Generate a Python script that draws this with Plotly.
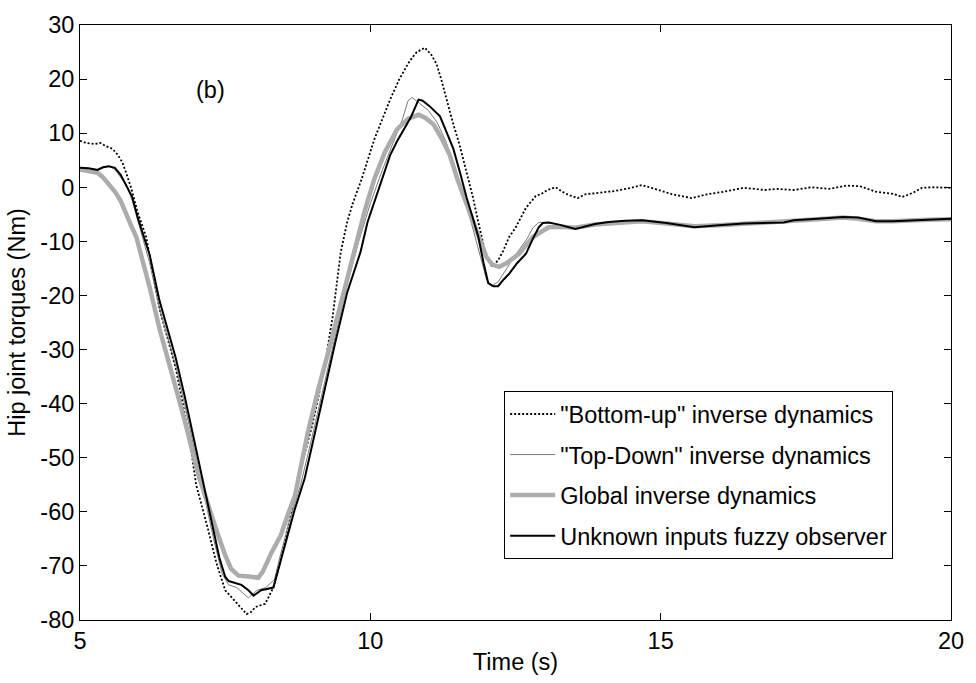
import plotly.graph_objects as go

# Bottom-up inverse dynamics (dotted)
t_bu = [5.0, 5.1, 5.26, 5.35, 5.45, 5.56, 5.65, 5.73, 5.8, 5.88, 5.99, 6.14, 6.37, 6.65, 6.88, 7.0,
        7.2, 7.35, 7.5, 7.68, 7.87, 7.95, 8.02, 8.19, 8.33, 8.45, 8.6, 8.8, 9.0, 9.2, 9.35, 9.49,
        9.6, 9.69, 9.85, 10.07, 10.2, 10.34, 10.5, 10.68, 10.8, 10.94, 11.05, 11.14, 11.22, 11.31,
        11.42, 11.54, 11.65, 11.77, 11.85, 11.94, 12.0, 12.1, 12.2, 12.29, 12.39, 12.5, 12.68,
        12.85, 12.95, 13.05, 13.19, 13.3, 13.41, 13.57, 13.7, 13.87, 14.2, 14.5, 14.68, 14.9,
        15.2, 15.53, 15.8, 16.1, 16.43, 16.8, 17.0, 17.29, 17.6, 17.9, 18.2, 18.43, 18.7, 19.0,
        19.16, 19.35, 19.5, 19.7, 20.0]
v_bu = [8.6, 8.2, 8.0, 8.2, 7.6, 7.1, 6.0, 4.6, 2.5, -0.1, -4.5, -9.2, -22.5, -33.5, -46.0, -55.0,
        -63.0, -69.5, -74.5, -76.7, -78.9, -78.5, -77.6, -77.0, -74.0, -69.0, -62.0, -52.0, -44.0,
        -34.0, -24.0, -12.0, -6.5, -3.2, 1.5, 8.9, 12.5, 16.2, 20.0, 23.4, 25.0, 25.8, 24.5, 22.8,
        20.0, 16.2, 12.0, 7.7, 3.0, -2.0, -6.0, -10.5, -13.0, -14.7, -13.5, -11.7, -9.2, -7.5, -3.8,
        -1.6, -1.2, -0.5, 0.0, -0.8, -1.4, -2.0, -1.3, -1.1, -0.7, -0.1, 0.4, -0.3,
        -1.3, -2.0, -1.3, -0.8, -0.1, -0.5, -0.3, -0.5, 0.0, -0.3, 0.3, 0.2, -0.8, -1.2,
        -1.8, -1.0, -0.1, 0.0, -0.1]

# "Top-Down" inverse dynamics (thin gray)
t_td = [5.0, 5.15, 5.3, 5.4, 5.5, 5.6, 5.7, 5.8, 5.9, 6.0, 6.1, 6.2, 6.37, 6.5, 6.65, 6.8, 7.0,
        7.17, 7.3, 7.45, 7.56, 7.7, 7.9, 8.05, 8.2, 8.35, 8.45, 8.6, 8.8, 9.0, 9.2, 9.4, 9.6, 9.8,
        10.0, 10.2, 10.4, 10.55, 10.65, 10.72, 10.85, 11.0, 11.15, 11.3, 11.45, 11.6, 11.75, 11.9,
        12.0, 12.08, 12.2, 12.35, 12.5, 12.7, 12.8, 12.9, 13.07, 13.25, 13.53, 13.87, 14.39,
        14.68, 15.1, 15.58, 16.0, 16.43, 17.12, 17.29, 17.7, 18.14, 18.4, 18.71, 19.0, 19.3,
        19.6, 20.0]
v_td = [3.6, 3.5, 3.3, 3.8, 3.9, 3.3, 1.8, 0.4, -2.5, -6.5, -10.5, -14.0, -22.5, -27.5, -33.0,
        -40.0, -50.0, -58.5, -65.0, -71.5, -73.5, -74.0, -75.9, -74.5, -74.0, -72.5, -68.0, -62.0,
        -55.0, -46.0, -36.5, -27.0, -18.0, -10.0, -3.0, 3.0, 8.5, 12.5, 16.0, 16.6, 15.5, 14.2,
        12.0, 8.5, 4.0, -1.5, -7.0, -13.0, -17.0, -18.3, -17.5, -15.0, -12.5, -9.5, -7.5, -6.5,
        -6.5, -6.9, -7.5, -6.9, -6.3, -6.2, -6.7, -7.3, -7.0, -6.7, -6.5, -6.1, -5.8, -5.5,
        -5.7, -6.3, -6.3, -6.2, -6.0, -5.8]

# Global inverse dynamics (thick light gray)
t_gl = [5.0, 5.2, 5.3, 5.4, 5.46, 5.55, 5.6, 5.7, 5.77, 5.87, 5.97, 6.08, 6.2, 6.37, 6.5, 6.65,
        6.8, 6.93, 7.05, 7.17, 7.3, 7.4, 7.5, 7.6, 7.73, 7.85, 7.95, 8.07, 8.15, 8.3, 8.46, 8.58,
        8.7, 8.92, 9.1, 9.3, 9.5, 9.73, 9.9, 10.07, 10.25, 10.46, 10.65, 10.83, 10.95, 11.09,
        11.23, 11.37, 11.5, 11.66, 11.83, 12.0, 12.1, 12.22, 12.35, 12.56, 12.8, 13.07, 13.3,
        13.53, 13.87, 14.39, 14.68, 15.1, 15.58, 16.0, 16.43, 17.12, 17.29, 17.7, 18.14, 18.4,
        18.71, 19.0, 19.3, 19.6, 20.0]
v_gl = [3.3, 3.0, 2.7, 1.8, 1.0, 0.0, -0.8, -2.5, -4.5, -6.8, -9.2, -13.5, -18.5, -26.2, -31.0,
        -37.1, -43.0, -48.6, -53.6, -57.5, -62.0, -65.0, -68.0, -70.5, -71.8, -71.8, -72.0, -72.2,
        -71.0, -67.5, -64.3, -60.5, -57.1, -45.5, -37.5, -29.5, -21.0, -12.0, -4.5, 1.6, 6.5,
        10.7, 12.7, 13.4, 12.8, 11.6, 9.0, 5.9, 1.5, -3.2, -8.0, -12.9, -14.3, -14.7, -14.0,
        -12.3, -9.2, -7.4, -7.3, -7.5, -6.9, -6.4, -6.3, -6.7, -7.2, -7.0, -6.8, -6.4, -6.2,
        -5.9, -5.6, -5.8, -6.3, -6.3, -6.1, -6.0, -5.9]

# Unknown inputs fuzzy observer (black)
t_uo = [5.0, 5.15, 5.3, 5.4, 5.5, 5.6, 5.7, 5.8, 5.9, 6.0, 6.1, 6.2, 6.37, 6.5, 6.65, 6.8, 6.88,
        7.0, 7.18, 7.3, 7.4, 7.5, 7.56, 7.78, 7.9, 7.99, 8.12, 8.33, 8.43, 8.53, 8.7, 8.87, 9.0,
        9.2, 9.4, 9.6, 9.83, 9.95, 10.07, 10.2, 10.34, 10.46, 10.58, 10.7, 10.83, 10.9, 11.02,
        11.2, 11.3, 11.43, 11.55, 11.66, 11.76, 11.86, 11.95, 12.03, 12.12, 12.2, 12.3, 12.39,
        12.53, 12.68, 12.8, 12.9, 12.97, 13.07, 13.25, 13.53, 13.87, 14.1, 14.39, 14.68, 15.1,
        15.58, 16.0, 16.43, 17.12, 17.29, 17.7, 18.14, 18.4, 18.71, 19.0, 19.3, 19.6, 20.0]
v_uo = [3.6, 3.5, 3.2, 3.7, 3.9, 3.6, 2.3, 0.3, -1.8, -5.8, -9.3, -12.5, -21.0, -26.0, -31.6,
        -38.5, -42.4, -48.5, -57.5, -63.5, -68.5, -72.0, -72.8, -73.5, -74.5, -75.5, -74.5, -74.0,
        -70.0, -66.0, -59.5, -53.8, -47.5, -38.0, -28.5, -19.5, -12.0, -6.5, -2.6, 1.5, 5.9, 8.5,
        10.7, 13.0, 16.2, 16.0, 15.0, 13.1, 10.5, 7.1, 2.5, -2.0, -5.5, -9.2, -14.0, -17.7, -18.3,
        -18.3, -17.0, -16.0, -14.0, -12.3, -9.5, -7.4, -6.6, -6.5, -6.9, -7.7, -6.8, -6.4, -6.2,
        -6.1, -6.6, -7.4, -7.0, -6.7, -6.5, -6.1, -5.8, -5.5, -5.6, -6.3, -6.3, -6.2, -6.0, -5.8]

x_ticks = [5, 10, 15, 20]
y_ticks = [30, 20, 10, 0, -10, -20, -30, -40, -50, -60, -70, -80]

FONT = "Liberation Sans, Arial, sans-serif"
FS = 23.5

fig = go.Figure()
fig.add_trace(go.Scatter(x=t_bu, y=v_bu, mode="lines", name='"Bottom-up" inverse dynamics',
                         line=dict(color="black", width=1.8, dash="2px,2px"), legendgroup="a"))
fig.add_trace(go.Scatter(x=t_td, y=v_td, mode="lines", name='"Top-Down" inverse dynamics',
                         line=dict(color="#7a7a7a", width=1), legendgroup="b"))
fig.add_trace(go.Scatter(x=t_gl, y=v_gl, mode="lines", name="Global inverse dynamics",
                         line=dict(color="#acacac", width=4.5), legendgroup="c"))
fig.add_trace(go.Scatter(x=t_uo, y=v_uo, mode="lines", name="Unknown inputs fuzzy observer",
                         line=dict(color="black", width=2), legendgroup="d"))

axis_common = dict(showgrid=False, zeroline=False, showline=True, linecolor="black", linewidth=1,
                   mirror="ticks", ticks="inside", ticklen=7, tickcolor="black", tickwidth=1,
                   tickfont=dict(family=FONT, size=FS, color="black"))

fig.update_xaxes(range=[5, 20], tickvals=x_ticks, ticktext=[str(v) for v in x_ticks],
                 title=dict(text="Time (s)", font=dict(family=FONT, size=FS, color="black"), standoff=0),
                 **axis_common)
fig.update_yaxes(range=[-80, 30], tickvals=y_ticks, ticktext=[str(v) for v in y_ticks],
                 title=dict(text="Hip joint torques (Nm)", font=dict(family=FONT, size=FS, color="black"),
                            standoff=8),
                 **axis_common)

fig.add_annotation(x=7.25, y=18, text="(b)", showarrow=False,
                   font=dict(family=FONT, size=FS, color="black"))

fig.update_layout(
    width=976, height=683,
    margin=dict(l=80, r=17, t=17, b=60),
    paper_bgcolor="white", plot_bgcolor="white",
    font=dict(family=FONT, size=FS, color="black"),
    legend=dict(x=0.487, y=0.3845, xanchor="left", yanchor="top",
                bordercolor="black", borderwidth=1, bgcolor="white",
                font=dict(family=FONT, size=FS, color="black"),
                tracegroupgap=7, itemwidth=45, traceorder="grouped"),
    showlegend=True,
)

fig.write_html("out.html")
